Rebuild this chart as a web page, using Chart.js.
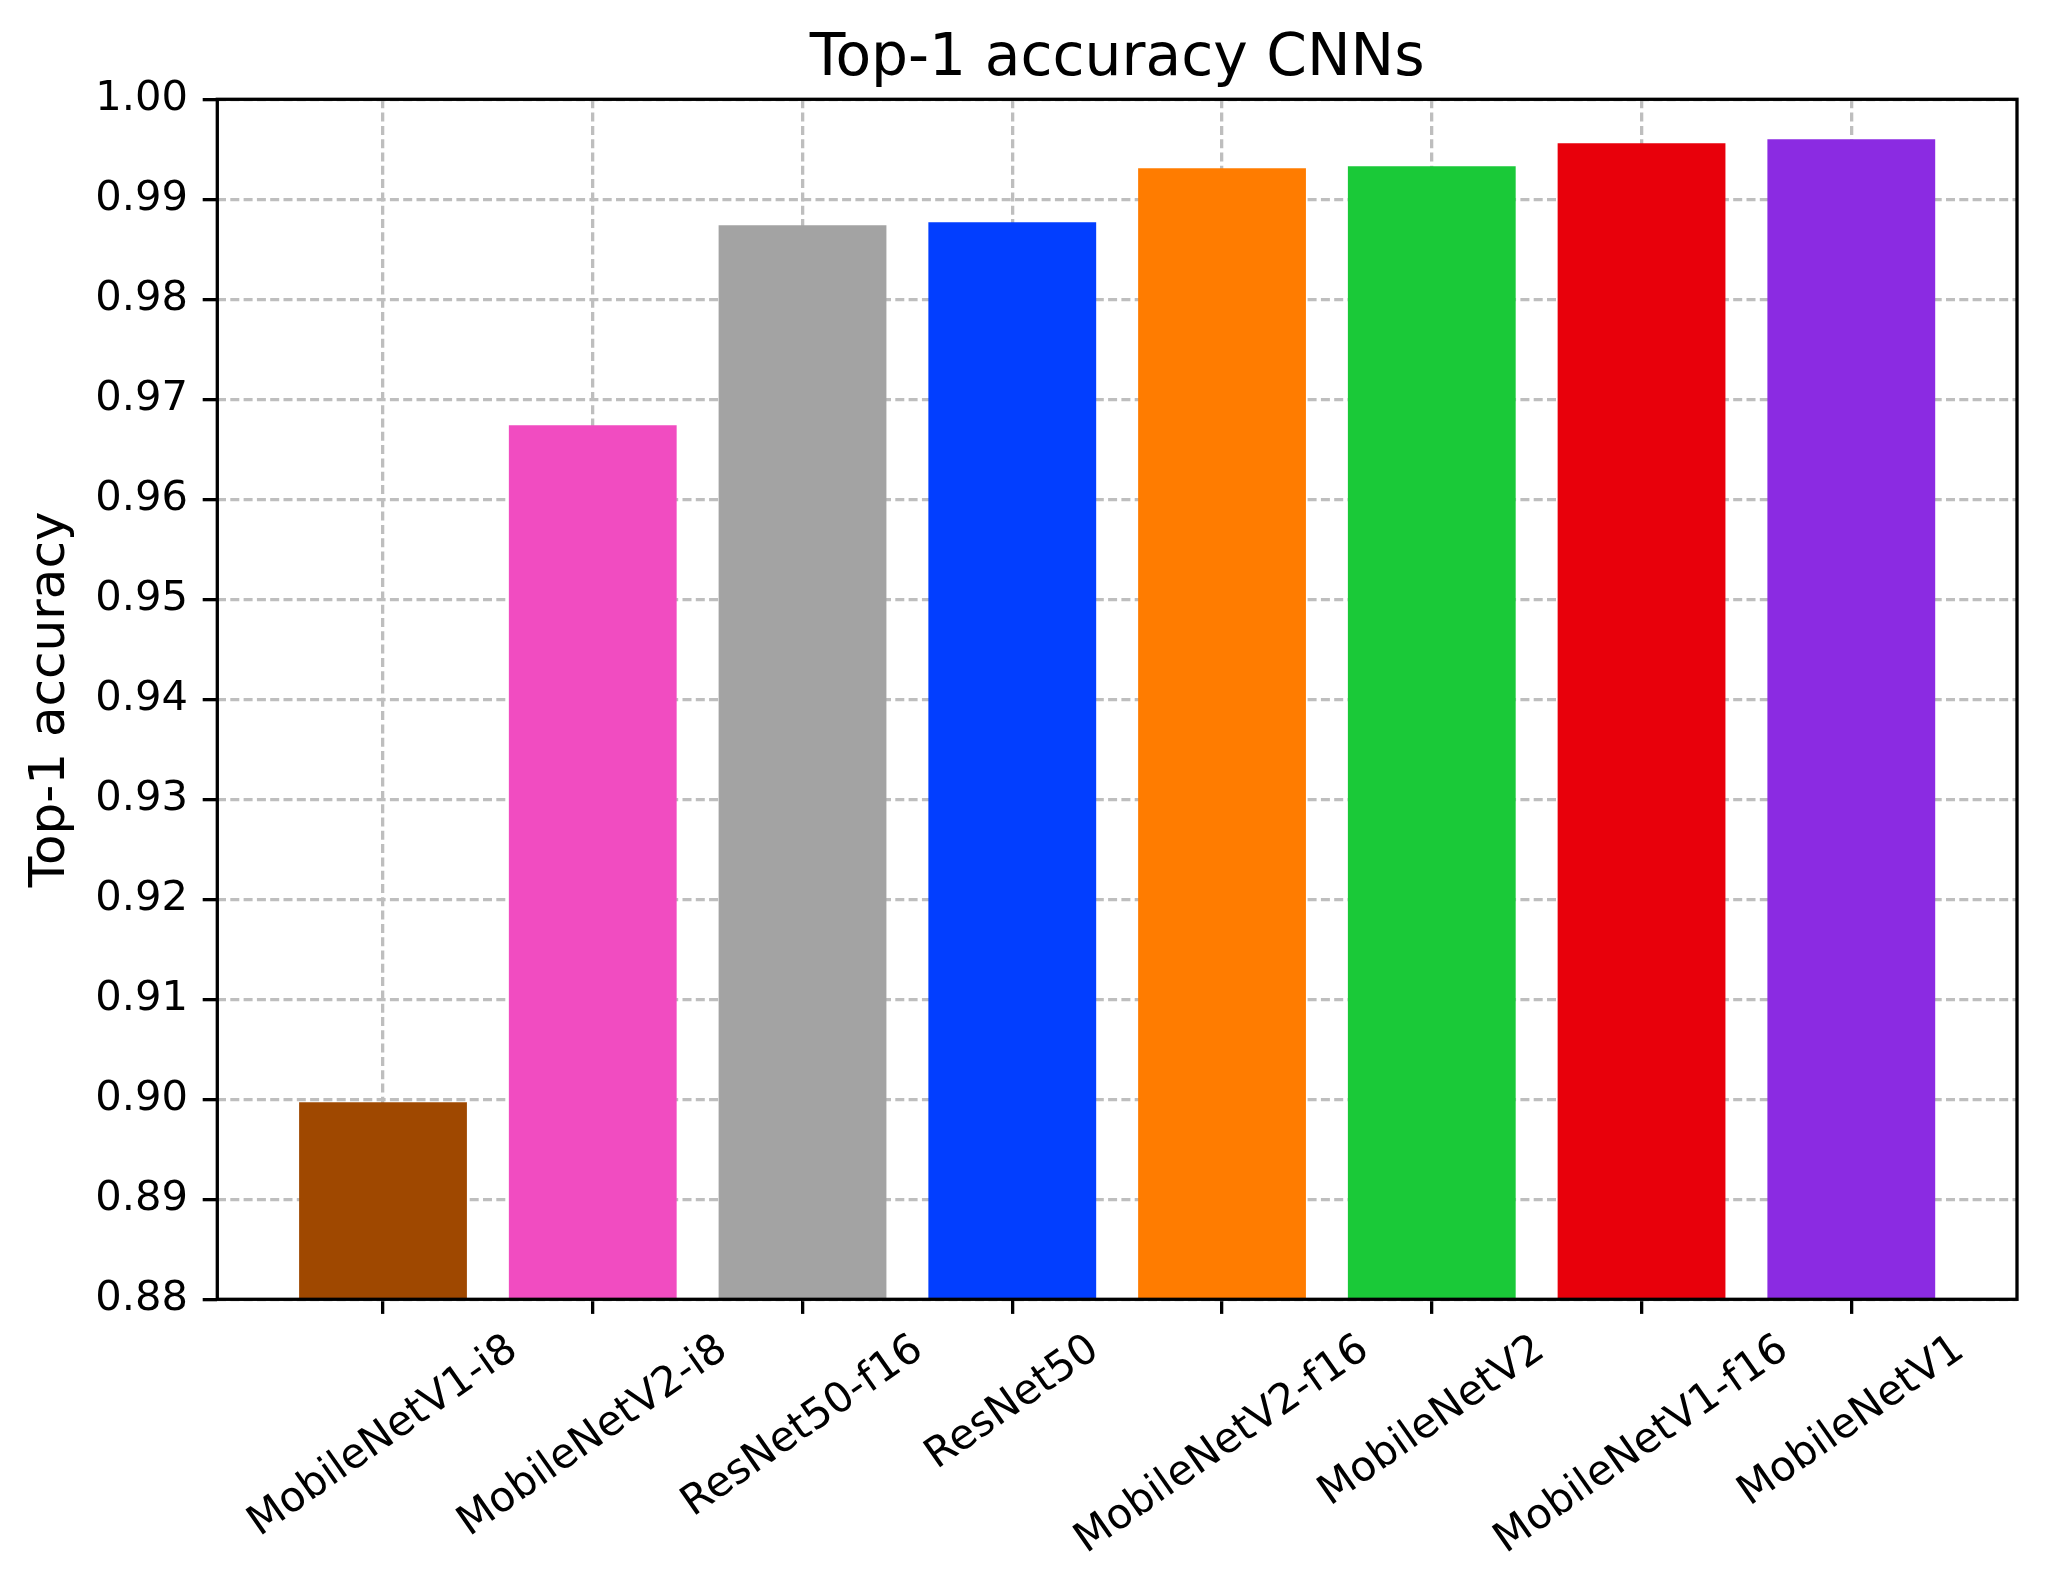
<!DOCTYPE html>
<html>
<head>
<meta charset="utf-8">
<script src="https://cdn.jsdelivr.net/npm/chart.js@4.4.1/dist/chart.umd.min.js"></script>
<style>
  html, body { margin: 0; padding: 0; background: #ffffff; }
  canvas { display: block; }
</style>
</head>
<body>
<canvas id="c" width="2046" height="1592"></canvas>
<script>
// ---- data ----
const categories = ["MobileNetV1-i8", "MobileNetV2-i8", "ResNet50-f16", "ResNet50",
                    "MobileNetV2-f16", "MobileNetV2", "MobileNetV1-f16", "MobileNetV1"];
const accuracy = [0.8997, 0.9674, 0.9874, 0.9877, 0.9931, 0.9933, 0.9956, 0.9960];
const barColors = ["#9f4800", "#f14cc1", "#a3a3a3", "#023eff", "#ff7c00", "#1ac938", "#e8000b", "#8b2be2"];
const yTickValues = [0.88, 0.89, 0.90, 0.91, 0.92, 0.93, 0.94, 0.95, 0.96, 0.97, 0.98, 0.99, 1.00];
const titleText = "Top-1 accuracy CNNs";
const yLabel = "Top-1 accuracy";

// ---- style ----
const FONT = "'DejaVu Sans', sans-serif";
Chart.defaults.font.family = FONT;
Chart.defaults.color = "#000000";

const W = 2046, H = 1592;
const PLOT = { left: 217.3, right: 2017, top: 99.3, bottom: 1299.3 };
const TICK_LEN = 14.6, TICK_PAD = 14.6;
const TICK_FS = 41.67, LABEL_FS = 50, TITLE_FS = 58.3;
const GRID_COLOR = "#bebebe", GRID_DASH = [9, 4.3], LW = 3.3;
const LABEL_ROT = 35;

const mplDecor = {
  id: "mplDecor",
  afterDraw(chart) {
    const { ctx, chartArea: a, scales: { x } } = chart;
    ctx.save();
    // frame (spines)
    ctx.lineWidth = LW;
    ctx.strokeStyle = "#000000";
    ctx.setLineDash([]);
    ctx.strokeRect(a.left, a.top, a.right - a.left, a.bottom - a.top);
    // title
    ctx.fillStyle = "#000000";
    ctx.font = TITLE_FS + "px " + FONT;
    ctx.textAlign = "center";
    ctx.textBaseline = "alphabetic";
    ctx.fillText(titleText, (a.left + a.right) / 2, a.top - 24.3);
    // rotated, centred x tick labels
    const fs = TICK_FS;
    ctx.font = fs + "px " + FONT;
    const th = LABEL_ROT * Math.PI / 180;
    x.ticks.forEach(t => {
      const label = categories[t.value];
      if (label === undefined) return;
      const cx = x.getPixelForValue(t.value);
      const w = ctx.measureText(label).width;
      const h = 0.968 * fs;
      const bh = w * Math.sin(th) + h * Math.cos(th);
      const cy = a.bottom + TICK_LEN + TICK_PAD + bh / 2;
      ctx.save();
      ctx.translate(cx, cy);
      ctx.rotate(-th);
      ctx.textAlign = "center";
      ctx.textBaseline = "alphabetic";
      ctx.fillText(label, 0, 0.276 * fs);
      ctx.restore();
    });
    ctx.restore();
  }
};

const gridOpts = {
  color: GRID_COLOR,
  lineWidth: LW,
  offset: false,
  drawTicks: true,
  tickLength: TICK_LEN,
  tickWidth: LW,
  tickColor: "#000000",
  tickBorderDash: []
};

new Chart(document.getElementById("c"), {
  type: "bar",
  data: {
    datasets: [{
      data: categories.map((c, i) => ({ x: i, y: accuracy[i] })),
      backgroundColor: barColors,
      borderWidth: 0,
      categoryPercentage: 0.8,
      barPercentage: 1.0
    }]
  },
  options: {
    responsive: false,
    animation: false,
    devicePixelRatio: 1,
    layout: { padding: { top: PLOT.top, right: W - PLOT.right, bottom: 0, left: 0 } },
    plugins: { legend: { display: false }, tooltip: { enabled: false }, title: { display: false } },
    scales: {
      x: {
        type: "linear",
        min: -0.79,
        max: 7.79,
        offset: false,
        afterBuildTicks: s => { s.ticks = categories.map((c, i) => ({ value: i })); },
        ticks: { autoSkip: false, maxRotation: 0, minRotation: 0, callback: () => "", font: { size: TICK_FS } },
        grid: gridOpts,
        border: { display: false, dash: GRID_DASH },
        afterFit: s => { s.height = H - PLOT.bottom; }
      },
      y: {
        type: "linear",
        min: 0.88,
        max: 1.0,
        afterBuildTicks: s => { s.ticks = yTickValues.map(v => ({ value: v })); },
        ticks: {
          autoSkip: false,
          padding: TICK_PAD,
          color: "#000000",
          font: { size: TICK_FS },
          callback: v => Number(v).toFixed(2)
        },
        grid: gridOpts,
        border: { display: false, dash: GRID_DASH },
        title: {
          display: true,
          text: yLabel,
          color: "#000000",
          font: { size: LABEL_FS },
          padding: { top: 21, bottom: 0 }
        },
        afterFit: s => { s.width = PLOT.left; }
      }
    }
  },
  plugins: [mplDecor]
});
</script>
</body>
</html>
